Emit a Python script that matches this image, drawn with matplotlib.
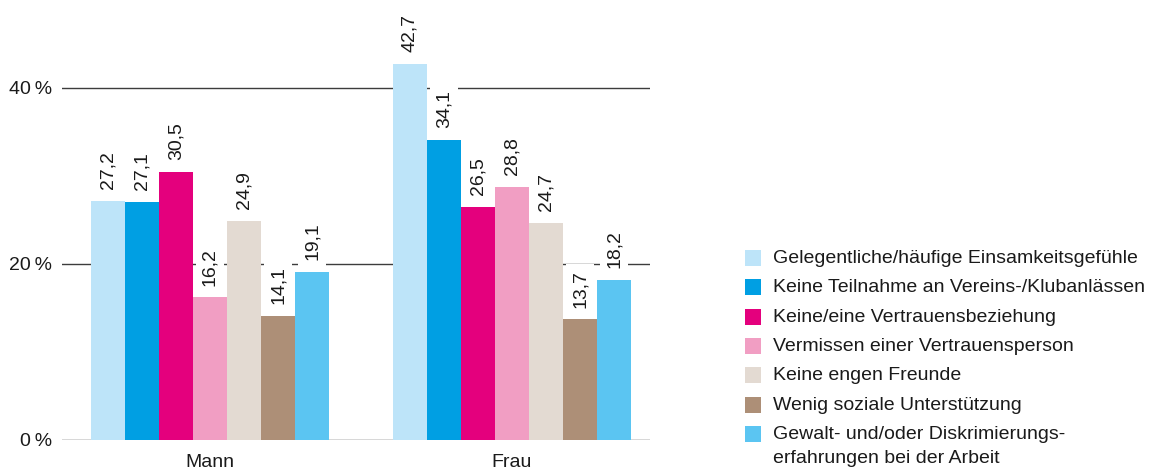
import numpy as np
import matplotlib
matplotlib.use("Agg")
import matplotlib.pyplot as plt
from matplotlib.patches import Rectangle

plt.rcParams['font.family'] = ['Liberation Sans', 'DejaVu Sans']

groups = ["Mann", "Frau"]
series = [
    "Gelegentliche/häufige Einsamkeitsgefühle",
    "Keine Teilnahme an Vereins-/Klubanlässen",
    "Keine/eine Vertrauensbeziehung",
    "Vermissen einer Vertrauensperson",
    "Keine engen Freunde",
    "Wenig soziale Unterstützung",
    "Gewalt- und/oder Diskrimierungs-\nerfahrungen bei der Arbeit",
]
mann = [27.2, 27.1, 30.5, 16.2, 24.9, 14.1, 19.1]
frau = [42.7, 34.1, 26.5, 28.8, 24.7, 13.7, 18.2]
colors = ["#BDE4F9", "#009FE3", "#E4007D", "#F19EC3", "#E3DAD2", "#AD8F77", "#5BC5F2"]
yticks = [0, 20, 40]

W, H = 1151, 470
fig = plt.figure(figsize=(W / 100, H / 100), dpi=100)
ax = fig.add_axes([62 / W, 30 / H, (650 - 62) / W, 440 / H])

width = 0.1127
x = np.arange(len(groups))
values = np.array([mann, frau])

# horizontal reference lines behind the bars
for t in yticks:
    ax.axhline(t, color="#3c3c3c", lw=1.0, zorder=0)

for i, col in enumerate(colors):
    pos = x + (i - 3) * width
    ax.bar(pos, values[:, i], width=width, color=col, zorder=2)
    for px, v in zip(pos, values[:, i]):
        ax.annotate(f"{v:.1f}".replace(".", ","), (px, v), xytext=(0, 8.5),
                    textcoords="offset points", rotation=90, ha="center", va="bottom",
                    fontsize=14, color="#1a1a1a", zorder=3,
                    bbox=dict(boxstyle="square,pad=0.3", fc="white", ec="none"))

ax.set_xlim(-0.49, 1.457)
ax.set_ylim(0, 50)
ax.set_yticks(yticks)
ax.set_yticklabels([f"{t}\u2009%" for t in yticks], fontsize=14, color="#1a1a1a")
ax.set_xticks(x)
ax.set_xticklabels(groups, fontsize=14, color="#1a1a1a")
ax.tick_params(length=0, axis="y", pad=7)
ax.tick_params(length=0, axis="x", pad=10)
for s in ax.spines.values():
    s.set_visible(False)
ax.patch.set_alpha(0)

# legend: colour squares with labels, one row per series
for i, (name, col) in enumerate(zip(series, colors)):
    yc = 258 + i * 29.3
    fig.patches.append(Rectangle((745 / W, 1 - (yc + 8) / H), 16 / W, 16 / H,
                                 transform=fig.transFigure, facecolor=col, edgecolor="none"))
    fig.text(773 / W, 1 - (yc - 8) / H, name, fontsize=14, color="#1a1a1a",
             va="top", linespacing=1.55)

fig.savefig("out.png", dpi=100)
